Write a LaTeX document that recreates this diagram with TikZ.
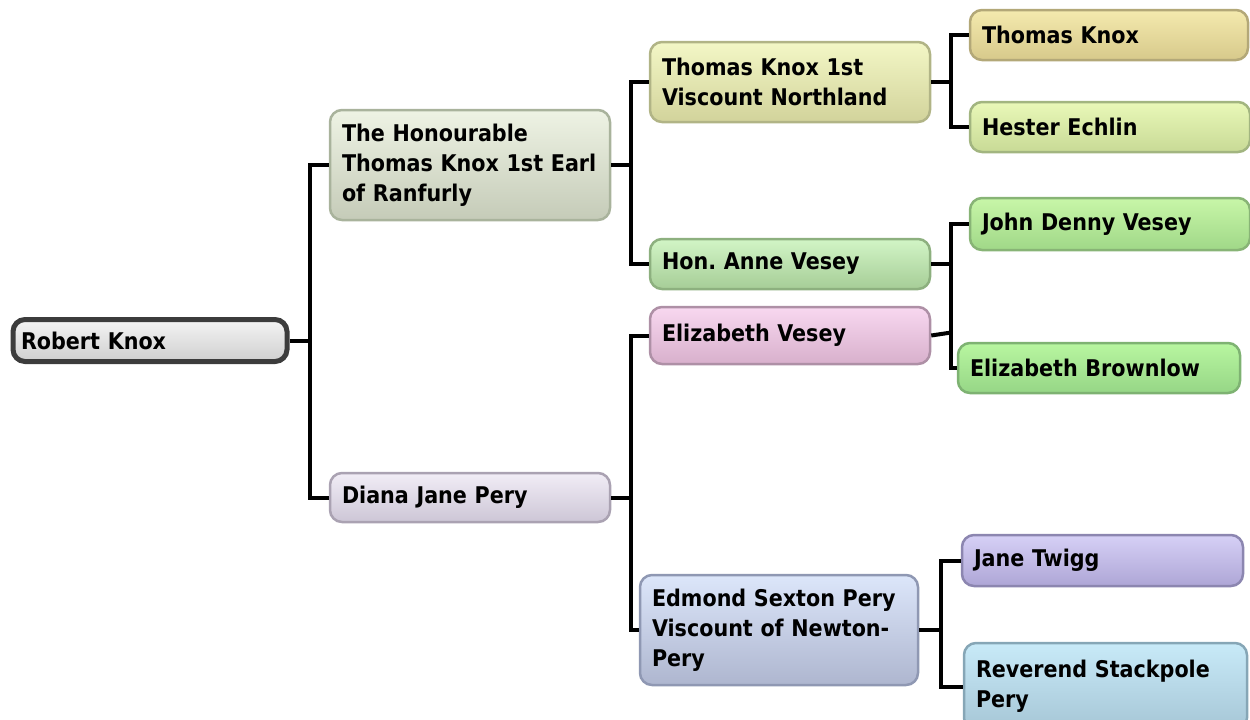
\documentclass[tikz,border=0pt]{standalone}
\usepackage{fontspec}
\setmainfont{DejaVu Sans Condensed}
\usetikzlibrary{positioning,calc}

% node colours: top, bottom, border
\definecolor{rkTop}{HTML}{F4F4F4}\definecolor{rkBot}{HTML}{CFCFCF}\definecolor{rkLine}{HTML}{3C3C3C}
\definecolor{htTop}{HTML}{EEF3E4}\definecolor{htBot}{HTML}{C5CBB8}\definecolor{htLine}{HTML}{A9B39C}
\definecolor{dpTop}{HTML}{F1EDF6}\definecolor{dpBot}{HTML}{CDC6D6}\definecolor{dpLine}{HTML}{AAA2B2}
\definecolor{tvTop}{HTML}{F3F7C6}\definecolor{tvBot}{HTML}{D2D39B}\definecolor{tvLine}{HTML}{B1B486}
\definecolor{avTop}{HTML}{D2F5C6}\definecolor{avBot}{HTML}{A6CD97}\definecolor{avLine}{HTML}{8DB07F}
\definecolor{evTop}{HTML}{F8D8F0}\definecolor{evBot}{HTML}{D8B0CC}\definecolor{evLine}{HTML}{AE90A6}
\definecolor{esTop}{HTML}{DCE6FA}\definecolor{esBot}{HTML}{AEB6CF}\definecolor{esLine}{HTML}{8F98B3}
\definecolor{tkTop}{HTML}{F4EAAE}\definecolor{tkBot}{HTML}{D7C98B}\definecolor{tkLine}{HTML}{B3A878}
\definecolor{heTop}{HTML}{E9F8B8}\definecolor{heBot}{HTML}{C8DA96}\definecolor{heLine}{HTML}{A2B580}
\definecolor{jdTop}{HTML}{C8F6A8}\definecolor{jdBot}{HTML}{A0D888}\definecolor{jdLine}{HTML}{88B476}
\definecolor{ebTop}{HTML}{B8F6A0}\definecolor{ebBot}{HTML}{96D686}\definecolor{ebLine}{HTML}{7EB272}
\definecolor{jtTop}{HTML}{D6D0F6}\definecolor{jtBot}{HTML}{AEA6D6}\definecolor{jtLine}{HTML}{8C86B0}
\definecolor{rsTop}{HTML}{C8EAF8}\definecolor{rsBot}{HTML}{A6C6D6}\definecolor{rsLine}{HTML}{86A6B6}

\begin{document}
\begin{tikzpicture}[
  x=1pt, y=-1pt,
  font=\fontsize{23}{30}\selectfont\bfseries,
  box/.style={draw=#1Line, top color=#1Top, bottom color=#1Bot, line width=2.5pt,
    rounded corners=12pt, inner xsep=12pt, inner ysep=0pt, align=left, text width=256pt},
  link/.style={line width=4pt},
]
\useasboundingbox (0,0) rectangle (1250,720);

% Generation 0
\node[box=rk, line width=5pt, inner xsep=8pt, minimum height=42pt, text width=258pt] (RK) at (150,340.5) {Robert Knox};

% Generation 1
\node[box=ht, minimum height=110pt] (HT) at (470,165) {The Honourable\\Thomas Knox 1st Earl\\of Ranfurly};
\node[box=dp, minimum height=49pt] (DP) at (470,497.5) {Diana Jane Pery};

% Generation 2
\node[box=tv, minimum height=80pt] (TV) at (790,82) {Thomas Knox 1st\\Viscount Northland};
\node[box=av, minimum height=50pt] (AV) at (790,264) {Hon.\ Anne Vesey};
\node[box=ev, minimum height=57pt] (EV) at (790,335.5) {Elizabeth Vesey};
\node[box=es, minimum height=110pt, text width=254pt] (ES) at (779,630) {Edmond Sexton Pery\\Viscount of Newton-\\Pery};

% Generation 3
\node[box=tk, minimum height=50pt, text width=254pt] (TK) at (1109,35) {Thomas Knox};
\node[box=he, minimum height=50pt] (HE) at (1110,127) {Hester Echlin};
\node[box=jd, minimum height=52pt] (JD) at (1110,224) {John Denny Vesey};
\node[box=eb, minimum height=50pt, text width=258pt] (EB) at (1099,368) {Elizabeth Brownlow};
\node[box=jt, minimum height=51pt, text width=257pt] (JT) at (1102.5,560.5) {Jane Twigg};
\node[box=rs, minimum height=87pt, text width=259pt] (RS) at (1105.5,686.5) {Reverend Stackpole\\Pery};

% Bus points
\coordinate (b0) at ($(RK.east)+(20,0)$);
\coordinate (b1) at ($(HT.east)+(20,0)$);
\coordinate (b2) at ($(DP.east)+(20,0)$);
\coordinate (b3) at ($(TV.east)+(20,0)$);
\coordinate (b4) at ($(AV.east)+(20,0)$);
\coordinate (b5) at ($(ES.east)+(22,0)$);

% Connectors
\draw[link] (RK.east) -- (b0);
\draw[link] (b0) |- (HT.west);
\draw[link] (b0) |- (DP.west);

\draw[link] (HT.east) -- (b1);
\draw[link] (b1) |- (TV.west);
\draw[link] (b1) |- (AV.west);

\draw[link] (DP.east) -- (b2);
\draw[link] (b2) |- (EV.west);
\draw[link] (b2) |- (ES.west);

\draw[link] (TV.east) -- (b3);
\draw[link] (b3) |- (TK.west);
\draw[link] (b3) |- (HE.west);

\draw[link] (AV.east) -- (b4);
\draw[link] (b4) |- (JD.west);
\draw[link] (b4) |- (EB.west);
\draw[link] (EV.east) -- ($(EV.east -| b4)+(0,-3)$);

\draw[link] (ES.east) -- (b5);
\draw[link] (b5) |- (JT.west);
\draw[link] (b5) |- (RS.west);

\end{tikzpicture}
\end{document}
